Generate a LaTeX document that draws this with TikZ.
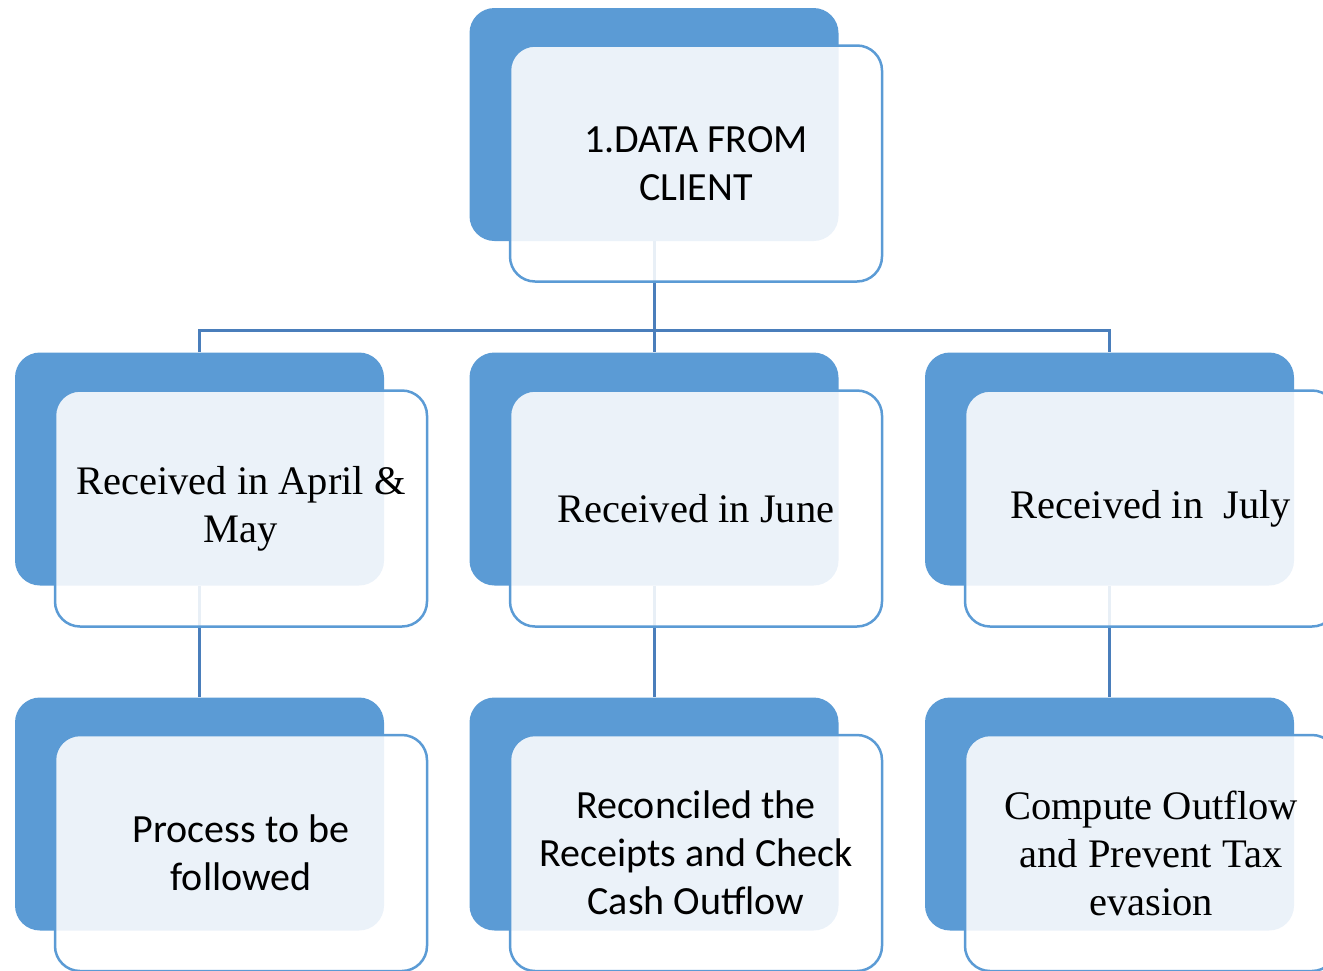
\documentclass[tikz,border=0pt]{standalone}
\usepackage{fontspec}
\newfontfamily\calib{Carlito}
\newfontfamily\serifc{Liberation Serif}
\definecolor{backblue}{RGB}{91,155,213}
\definecolor{linkblue}{RGB}{74,126,187}
\begin{document}
\begin{tikzpicture}[x=1pt,y=-1pt,
  backbox/.style={draw=none,fill=backblue,rounded corners=25pt,minimum width=369pt,minimum height=233pt,inner sep=0pt},
  frontbox/.style={draw=backblue,line width=2.5pt,fill=white,fill opacity=0.88,text opacity=1,rounded corners=25pt,minimum width=372pt,minimum height=236pt,inner sep=0pt,align=center,text=black},
  sanslbl/.style={font=\calib\fontsize{40}{48}\selectfont},
  seriflbl/.style={font=\serifc\fontsize{40.5}{48}\selectfont},
  conn/.style={draw=linkblue,line width=3pt}]
\useasboundingbox (0,0) rectangle (1323,970);
\clip (0,0) rectangle (1323,970);
% back boxes
\node[backbox] (b0) at (654,124.5) {};
\node[backbox] (b1) at (199.5,469) {};
\node[backbox] (b2) at (654,469) {};
\node[backbox] (b3) at (1109.5,469) {};
\node[backbox] (b4) at (199.5,814) {};
\node[backbox] (b5) at (654,814) {};
\node[backbox] (b6) at (1109.5,814) {};
% connectors
\coordinate (bus) at (654,330);
\draw[conn] (b0.south) -- (bus);
\draw[conn] (b1.north) |- (bus) -| (b3.north);
\draw[conn] (bus) -- (b2.north);
\draw[conn] (b1.south) -- (b4.north);
\draw[conn] (b2.south) -- (b5.north);
\draw[conn] (b3.south) -- (b6.north);
% front boxes with labels
\node[frontbox,sanslbl] (f0) at (696,163.5) {1.DATA FROM\\CLIENT};
\node[frontbox,seriflbl] (f1) at (241,508.5) {Received in April \&\\May};
\node[frontbox,seriflbl] (f2) at (696,508.5) {Received in June};
\node[frontbox,seriflbl] (f3) at (1151,508.5) {Received in\ \ July};
\node[frontbox,sanslbl] (f4) at (241,853) {Process to be\\followed};
\node[frontbox,sanslbl] (f5) at (696,853) {Reconciled the\\Receipts and Check\\Cash Outflow};
\node[frontbox,seriflbl] (f6) at (1151,853) {Compute Outflow\\and Prevent Tax\\evasion};
\end{tikzpicture}
\end{document}
